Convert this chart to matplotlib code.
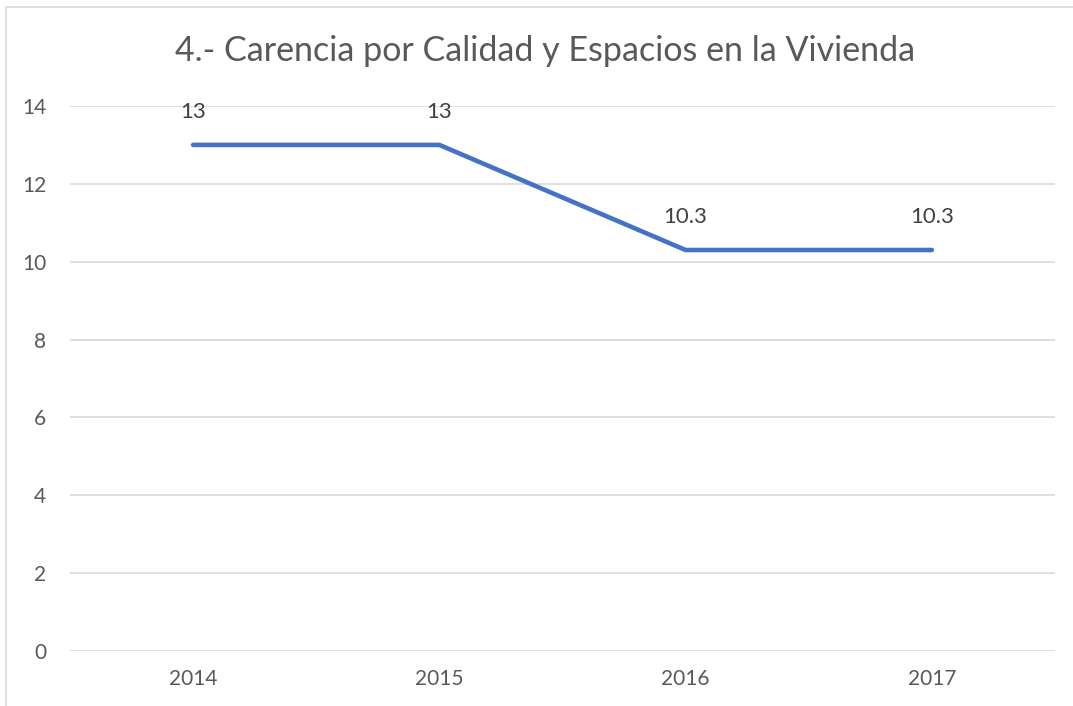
import matplotlib.pyplot as plt
from matplotlib.patches import Rectangle

# data
years = ['2014', '2015', '2016', '2017']
values = [13, 13, 10.3, 10.3]
labels = ['13', '13', '10.3', '10.3']
y_ticks = [0, 2, 4, 6, 8, 10, 12, 14]

plt.rcParams['font.family'] = ['Lato', 'DejaVu Sans']

fig = plt.figure(figsize=(10.73, 7.06), dpi=100)
ax = fig.add_axes([0.0652, 0.0779, 0.918, 0.772])

# chart frame (Excel style, clipped at right/bottom)
fig.patches.append(Rectangle((6 / 1073, -0.05), 1.2, 1 - 7 / 706 + 0.05,
                             transform=fig.transFigure, fill=False,
                             edgecolor='#D9D9D9', linewidth=1.2))

x = [i + 0.5 for i in range(len(years))]
ax.plot(x, values, color='#4472C4', linewidth=3.3, solid_capstyle='round', zorder=3)

for xi, v, lab in zip(x, values, labels):
    ax.annotate(lab, (xi, v), xytext=(0, 24), textcoords='offset points',
                ha='center', va='center', fontsize=16, color='#404040')

ax.set_xlim(0, len(years))
ax.set_ylim(0, 14)
ax.set_xticks(x)
ax.set_xticklabels(years)
ax.set_yticks(y_ticks)
ax.tick_params(axis='both', length=0, labelsize=15, labelcolor='#595959')
ax.tick_params(axis='y', pad=17)
ax.tick_params(axis='x', pad=13)
ax.grid(axis='y', color='#D9D9D9', linewidth=1.2)
ax.set_axisbelow(True)
for s in ax.spines.values():
    s.set_visible(False)

fig.text(0.508, 1 - 51 / 706, '4.- Carencia por Calidad y Espacios en la Vivienda',
         ha='center', va='center', fontsize=24.5, color='#595959')

plt.savefig('out.png', dpi=100)
